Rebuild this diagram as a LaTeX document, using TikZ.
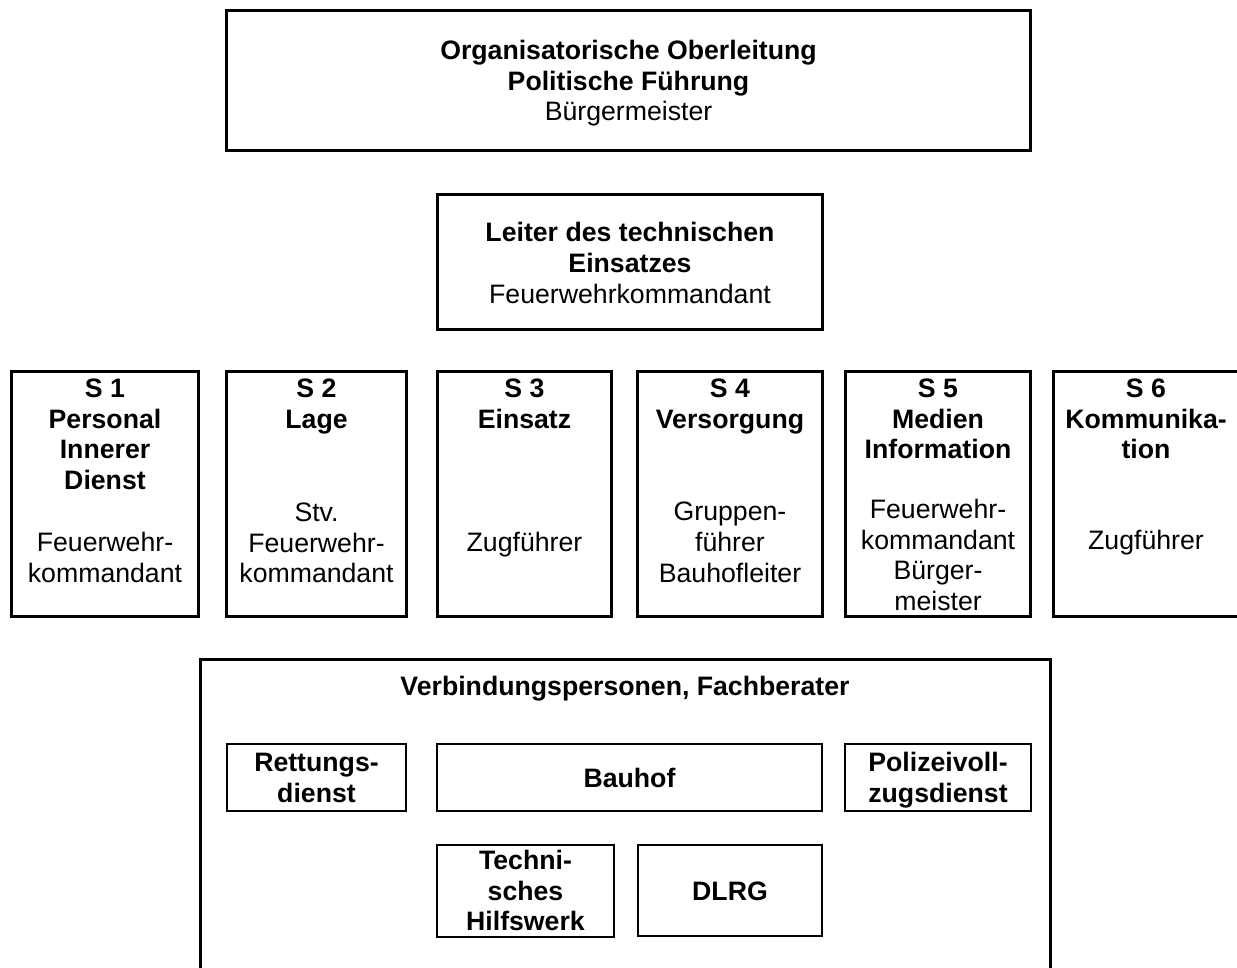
\documentclass[tikz,border=0pt]{standalone}
\usepackage{fontspec}
\setmainfont{Liberation Sans}
\newcommand{\ls}{\rule[-5.8pt]{0pt}{30.67pt}}
\begin{document}
\begin{tikzpicture}[x=1pt,y=-1pt,
  every node/.style={font=\fontsize{26.67pt}{30.67pt}\selectfont, inner sep=0pt, outer sep=0pt},
  box/.style={draw, line width=3pt},
  ibox/.style={draw, line width=2pt},
  txt/.style={align=center}]
\useasboundingbox (0,0) rectangle (1237,967);
\clip (0,0) rectangle (1237,967);
% top
\node[box, minimum width=804pt, minimum height=140pt] (top) at (628.5,80.5) {};
\node[txt] (toptxt) at (top.center) {\ls\textbf{Organisatorische Oberleitung}\\\ls\textbf{Politische Führung}\\\ls Bürgermeister};
% Leiter
\node[box, minimum width=385pt, minimum height=135pt] (lte) at (630,262) {};
\node[txt] (ltetxt) at (630,263) {\ls\textbf{Leiter des technischen}\\\ls\textbf{Einsatzes}\\\ls Feuerwehrkommandant};
% S boxes
\node[box, minimum width=187pt, minimum height=245pt] (s1) at (105,494) {};
\node[box, minimum width=180pt, minimum height=245pt] (s2) at (316.5,494) {};
\node[box, minimum width=174pt, minimum height=245pt] (s3) at (524.5,494) {};
\node[box, minimum width=185pt, minimum height=245pt] (s4) at (730,494) {};
\node[box, minimum width=185pt, minimum height=245pt] (s5) at (938,494) {};
\node[box, minimum width=185pt, minimum height=245pt] (s6) at (1146,494) {};
\node[txt, anchor=north] (s1a) at (105,372.7) {\ls\textbf{S 1}\\\ls\textbf{Personal}\\\ls\textbf{Innerer}\\\ls\textbf{Dienst}};
\node[txt] (s1b) at (105,557.5) {\ls Feuerwehr-\\\ls kommandant};
\node[txt, anchor=north] (s2a) at (316.5,372.7) {\ls\textbf{S 2}\\\ls\textbf{Lage}};
\node[txt] (s2b) at (316.5,542.7) {\ls Stv.\\\ls Feuerwehr-\\\ls kommandant};
\node[txt, anchor=north] (s3a) at (524.5,372.7) {\ls\textbf{S 3}\\\ls\textbf{Einsatz}};
\node[txt] (s3b) at (524.5,542) {\ls Zugführer};
\node[txt, anchor=north] (s4a) at (730,372.7) {\ls\textbf{S 4}\\\ls\textbf{Versorgung}};
\node[txt] (s4b) at (730,542) {\ls Gruppen-\\\ls führer\\\ls Bauhofleiter};
\node[txt, anchor=north] (s5a) at (938,372.7) {\ls\textbf{S 5}\\\ls\textbf{Medien}\\\ls\textbf{Information}};
\node[txt] (s5b) at (938,555) {\ls Feuerwehr-\\\ls kommandant\\\ls Bürger-\\\ls meister};
\node[txt, anchor=north] (s6a) at (1146,372.7) {\ls\textbf{S 6}\\\ls\textbf{Kommunika-}\\\ls\textbf{tion}};
\node[txt] (s6b) at (1146,540) {\ls Zugführer};
% bottom container
\node[box, minimum width=850pt, minimum height=330pt] (vb) at (625.5,824.5) {};
\node[txt] (vbt) at (625,686) {\ls\textbf{Verbindungspersonen, Fachberater}};
\node[ibox, txt, minimum width=179pt, minimum height=67pt] (rd) at (316.5,777.5) {\ls\textbf{Rettungs-}\\\ls\textbf{dienst}};
\node[ibox, txt, minimum width=385pt, minimum height=67pt] (bh) at (629.5,777.5) {\ls\textbf{Bauhof}};
\node[ibox, txt, minimum width=186pt, minimum height=67pt] (pv) at (938,777.5) {\ls\textbf{Polizeivoll-}\\\ls\textbf{zugsdienst}};
\node[ibox, txt, minimum width=177pt, minimum height=91pt] (thw) at (525.5,890.5) {\ls\textbf{Techni-}\\\ls\textbf{sches}\\\ls\textbf{Hilfswerk}};
\node[ibox, txt, minimum width=184pt, minimum height=91pt] (dlrg) at (730,890.5) {\ls\textbf{DLRG}};
\end{tikzpicture}
\end{document}
